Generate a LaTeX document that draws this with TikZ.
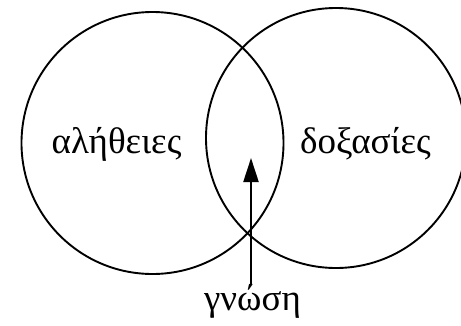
\documentclass[tikz,border=0pt]{standalone}
\usepackage{fontspec}
\setmainfont{Liberation Serif}
\usetikzlibrary{arrows.meta}
\begin{document}
\begin{tikzpicture}[x=1pt,y=-1pt,
  ring/.style={draw=black,line width=1.9pt},
  lbl/.style={font=\fontsize{37}{42}\selectfont,inner sep=0pt,anchor=base},
  arr/.style={line width=2.2pt,-{Triangle[length=24pt,width=15pt]}}]
\useasboundingbox (0,0) rectangle (461,325);
\node[ring,circle,minimum size=262pt,inner sep=0pt] (L) at (152.5,143) {};
\node[ring,circle,minimum size=260pt,inner sep=0pt] (R) at (336,138) {};
\node[lbl] (a) at (116.5,153) {αλήθειες};
\node[lbl] (d) at (365.5,153) {δοξασίες};
\node[lbl] (g) at (252.5,310) {γνώση};
\coordinate (tip) at (251,158);
\draw[arr] (g.north -| tip) -- (tip);
\end{tikzpicture}
\end{document}
